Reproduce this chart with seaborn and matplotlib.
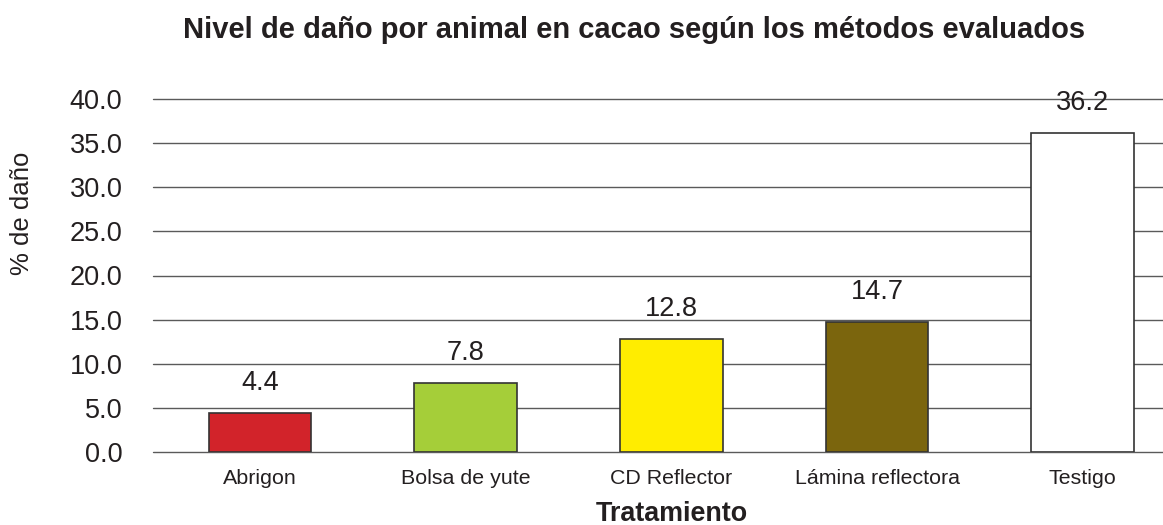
import matplotlib
matplotlib.use("Agg")
import matplotlib.pyplot as plt
import seaborn as sns
import pandas as pd

categories = ["Abrigon", "Bolsa de yute", "CD Reflector", "Lámina reflectora", "Testigo"]
values = [4.4, 7.8, 12.8, 14.7, 36.2]
colors = ["#D2232A", "#A5CE39", "#FFED00", "#7B650D", "#FFFFFF"]
yticks = [0, 5, 10, 15, 20, 25, 30, 35, 40]

sns.set_theme(style="white")
plt.rcParams["font.family"] = ["Liberation Sans", "DejaVu Sans"]

df = pd.DataFrame({"Tratamiento": categories, "Daño": values})

W, H = 1163, 525
fig = plt.figure(figsize=(W / 100, H / 100), dpi=100)
ax = fig.add_axes([153 / W, 1 - 452 / H, 1 - 153 / W, (452 - 99) / H])

ax.set_axisbelow(True)
for t in yticks:
    ax.axhline(t, color="#5a5a5a", lw=1.0, zorder=0, clip_on=False)

sns.barplot(data=df, x="Tratamiento", y="Daño", hue="Tratamiento", palette=colors,
            legend=False, width=0.5, edgecolor="#333333", linewidth=1.2, ax=ax, zorder=2,
            saturation=1)

for i, v in enumerate(values):
    ax.text(i, v + 3.4, f"{v:.1f}", ha="center", va="center", fontsize=19.5, color="#231F20")

ax.set_ylim(0, 40)
ax.set_xlim(-0.52, 4.39)
ax.set_yticks(yticks)
ax.set_yticklabels([f"{t:.1f}" for t in yticks], fontsize=19.5, color="#231F20")
ax.tick_params(axis="x", labelsize=15.4, colors="#231F20", length=0, pad=12)
ax.tick_params(axis="y", length=0, pad=22)
for s in ax.spines.values():
    s.set_visible(False)

ax.set_ylabel("")
ax.set_xlabel("")
fig.text(22 / W, 1 - 213 / H, "% de daño", rotation=90, ha="center", va="center",
         fontsize=18.5, color="#231F20")
fig.text(672 / W, 1 - 514 / H, "Tratamiento", ha="center", va="center",
         fontsize=19.4, fontweight="bold", color="#231F20")
fig.text(634 / W, 1 - 30 / H, "Nivel de daño por animal en cacao según los métodos evaluados",
         ha="center", va="center", fontsize=21, fontweight="bold", color="#231F20")

fig.savefig("out.png", dpi=100)
